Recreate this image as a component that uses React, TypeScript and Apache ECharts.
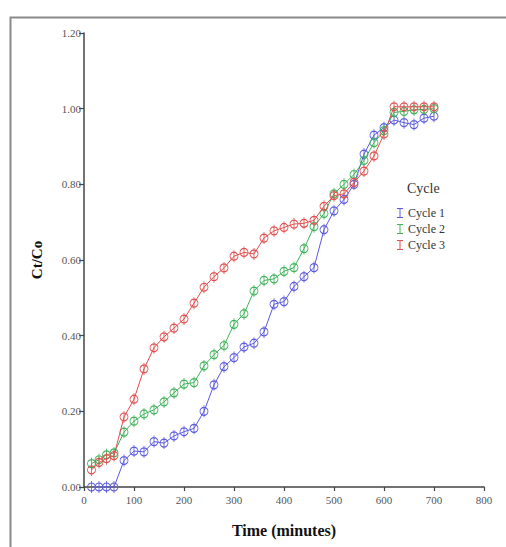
import React, { useEffect, useRef } from "react";
import * as echarts from "echarts";

const times = [15, 30, 45, 60, 80, 100, 120, 140, 160, 180, 200, 220, 240, 260, 280, 300, 320, 340, 360, 380, 400, 420, 440, 460, 480, 500, 520, 540, 560, 580, 600, 620, 640, 660, 680, 700];

const cycle1 = [0.0, 0.0, 0.0, 0.0, 0.07, 0.095, 0.093, 0.12, 0.116, 0.135, 0.146, 0.155, 0.2, 0.27, 0.318, 0.342, 0.37, 0.38, 0.41, 0.483, 0.49, 0.53, 0.556, 0.58, 0.68, 0.73, 0.76, 0.8, 0.88, 0.93, 0.95, 0.97, 0.963, 0.958, 0.975, 0.98];
const cycle2 = [0.062, 0.072, 0.085, 0.09, 0.145, 0.174, 0.193, 0.204, 0.225, 0.249, 0.272, 0.276, 0.32, 0.35, 0.374, 0.43, 0.458, 0.518, 0.546, 0.55, 0.57, 0.58, 0.63, 0.688, 0.723, 0.775, 0.8, 0.826, 0.863, 0.91, 0.942, 0.99, 0.993, 0.997, 0.998, 1.0];
const cycle3 = [0.045, 0.065, 0.075, 0.083, 0.185, 0.232, 0.312, 0.368, 0.397, 0.42, 0.444, 0.486, 0.528, 0.556, 0.579, 0.61, 0.62, 0.616, 0.658, 0.677, 0.686, 0.695, 0.697, 0.705, 0.742, 0.77, 0.775, 0.805, 0.835, 0.875, 0.933, 1.005, 1.005, 1.005, 1.005, 1.005];

const seriesNames = ["Cycle 1", "Cycle 2", "Cycle 3"];
const seriesColors = ["#5a5ae0", "#3fb35a", "#e05050"];
const xTicks = [0, 100, 200, 300, 400, 500, 600, 700, 800];
const yTicks = [0, 0.2, 0.4, 0.6, 0.8, 1.0, 1.2];

const FONT = "'Liberation Serif', 'DejaVu Serif', serif";
const markerPath = "path://M0,-4 A4,4 0 1,1 0,4 A4,4 0 1,1 0,-4 Z M0,-6 L0,6";
const legendIcon = "path://M0,0 H6 V1 H3.5 V9 H6 V10 H0 V9 H2.5 V1 H0 Z";

export default function App() {
  const ref = useRef<HTMLDivElement>(null);
  useEffect(() => {
    if (!ref.current) return;
    const chart = echarts.init(ref.current, null, { renderer: "svg" });
    const all = [cycle1, cycle2, cycle3];
    const option: any = {
      animation: false,
      backgroundColor: "#ffffff",
      grid: { left: 84, right: 22, top: 33, bottom: 60, containLabel: false },
      xAxis: {
        type: "value",
        min: xTicks[0],
        max: xTicks[xTicks.length - 1],
        interval: 100,
        name: "Time (minutes)",
        nameLocation: "middle",
        nameGap: 35,
        nameTextStyle: { fontFamily: FONT, fontWeight: "bold", fontSize: 16, color: "#111" },
        axisLine: { show: true, lineStyle: { color: "#444", width: 1.5 } },
        axisTick: { show: true, length: 4, lineStyle: { color: "#444", width: 1.2 } },
        axisLabel: { fontFamily: FONT, fontSize: 11, color: "#555", margin: 7 },
        splitLine: { show: false },
      },
      yAxis: {
        type: "value",
        min: yTicks[0],
        max: yTicks[yTicks.length - 1],
        interval: 0.2,
        name: "Ct/Co",
        nameLocation: "middle",
        nameGap: 40,
        nameRotate: 90,
        nameTextStyle: { fontFamily: FONT, fontWeight: "bold", fontSize: 15, color: "#111" },
        axisLine: { show: true, lineStyle: { color: "#444", width: 1.5 } },
        axisTick: { show: true, length: 5, lineStyle: { color: "#444", width: 1.2 } },
        axisLabel: {
          fontFamily: FONT,
          fontSize: 11,
          color: "#555",
          margin: 3,
          formatter: (v: number) => v.toFixed(2),
        },
        splitLine: { show: false },
      },
      legend: {
        orient: "vertical",
        left: 392,
        top: 202,
        itemWidth: 6,
        itemHeight: 10,
        itemGap: 4,
        icon: legendIcon,
        textStyle: { fontFamily: FONT, fontSize: 12, color: "#333" },
        data: seriesNames.map((n, i) => ({
          name: n,
          icon: legendIcon,
          itemStyle: { color: seriesColors[i], borderWidth: 0 },
        })),
      },
      graphic: [
        {
          type: "rect",
          left: 8,
          top: 15,
          shape: { width: 497, height: 545 },
          style: { fill: "none", stroke: "#8a8a8a", lineWidth: 2 },
          silent: true,
        },
        {
          type: "text",
          left: 407,
          top: 181,
          style: { text: "Cycle", font: `14px ${FONT}`, fill: "#333" },
        },
      ],
      series: all.map((vals, i) => ({
        name: seriesNames[i],
        type: "line",
        data: times.map((t, k) => [t, vals[k]]),
        symbol: markerPath,
        symbolSize: [8, 12],
        showSymbol: true,
        lineStyle: { color: seriesColors[i], width: 1 },
        itemStyle: { color: "rgba(0,0,0,0)", borderColor: seriesColors[i], borderWidth: 1 },
        z: 2 + i,
      })),
    };
    chart.setOption(option);
    return () => chart.dispose();
  }, []);
  return <div ref={ref} style={{ width: 506, height: 547, position: "absolute", left: 0, top: 0 }} />;
}
